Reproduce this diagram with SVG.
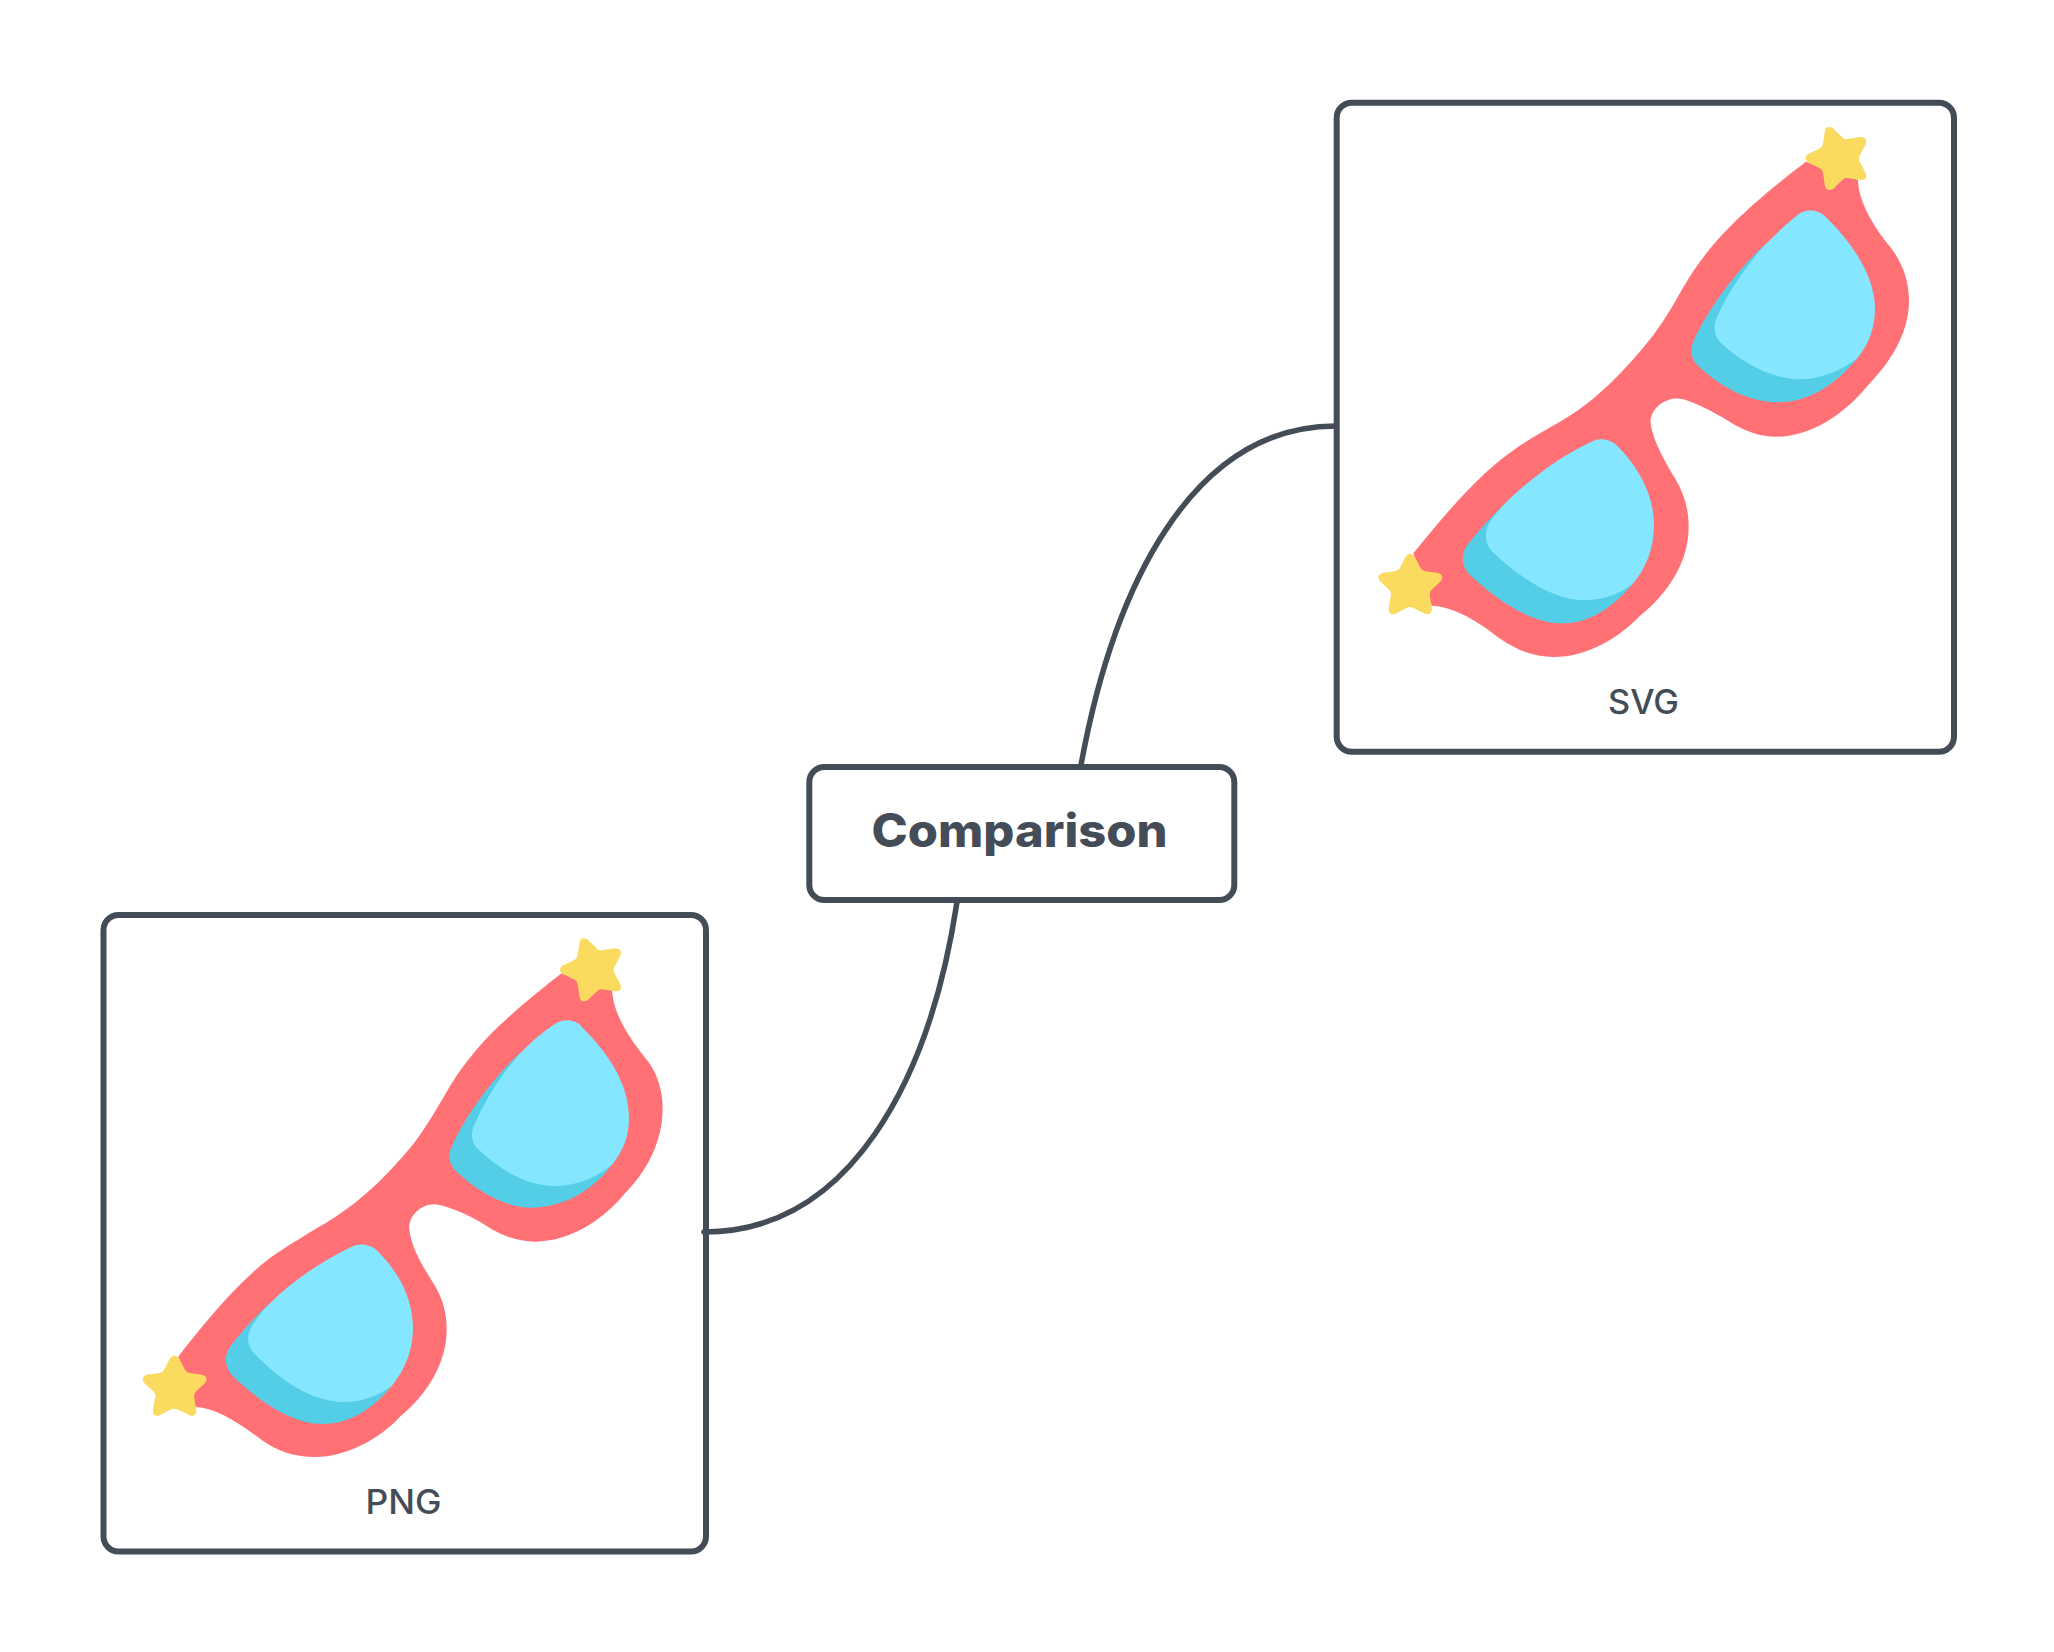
<svg xmlns="http://www.w3.org/2000/svg" width="2054" height="1652" viewBox="0 0 2054 1652">
<style>
.box{fill:#fff;stroke:#444d57;stroke-width:6}
.conn{fill:none;stroke:#444d57;stroke-width:5.5;stroke-linecap:round}
.frame{fill:#ff7175}.light{fill:#84e6ff}.dark{fill:#54cee6}.star{fill:#fadb5f}
.lbl{font-family:"Inter","Liberation Sans",sans-serif;fill:#444d57;text-anchor:middle}
.cap{font-size:34px;font-weight:500}
.title{font-size:46px;font-weight:800}
</style>
<defs>
<path id="s1" class="star" d="M1349,35 Q1353,20 1371,27 L1403,58 Q1408,63 1416,61 L1455,55 Q1477,55 1472,75 L1452,113 Q1449,120 1452,127 L1472,165 Q1477,185 1455,184 L1416,178 Q1408,177 1403,182 L1373,211 Q1354,220 1349,203 L1343,162 Q1341,152 1334,149 L1297,131 Q1283,119 1297,107 L1334,89 Q1341,86 1343,76 Z"/>
<path id="s2" class="star" d="M120,1285 Q133,1268 147,1285 L165,1320 Q170,1328 179,1329 L217,1334 Q237,1340 226,1358 L197,1385 Q191,1391 192,1400 L199,1440 Q198,1463 178,1456 L142,1438 Q133,1434 124,1438 L89,1456 Q68,1463 69,1440 L76,1400 Q77,1391 71,1385 L42,1358 Q31,1340 50,1334 L88,1329 Q97,1328 102,1320 Z"/>
</defs>
<rect width="2054" height="1652" fill="#fff"/>
<g id="node-png">
<rect class="box" x="103.5" y="915" width="602.5" height="636.5" rx="15"/>
<g transform="translate(130,930) scale(.33333)">
<path class="frame" d="M1295,130 L1446,180 C1450,260 1510,340 1555,395 C1582,432 1598,482 1598,535 C1598,640 1545,730 1485,790 C1420,870 1320,935 1215,935 C1165,935 1115,918 1070,888 C1030,862 975,835 925,824 C880,815 833,855 838,900 C848,965 880,1010 915,1068 C940,1110 950,1150 950,1200 C950,1300 890,1395 810,1460 C750,1525 650,1581 555,1581 C490,1581 440,1562 395,1530 C330,1480 255,1432 195,1431 L145,1280 C215,1190 290,1100 350,1045 C420,975 480,945 560,895 C640,850 720,790 800,700 C870,625 900,570 950,485 C985,425 1040,350 1110,285 C1170,230 1235,175 1295,130 Z"/>
<path class="dark" d="M1175,365 C1110,420 1010,545 965,650 C950,680 960,708 985,730 C1050,790 1130,833 1205,833 C1300,833 1390,780 1445,705 Z"/>
<path class="light" d="M1270,285 C1295,265 1335,265 1358,293 C1440,375 1497,465 1497,565 C1497,625 1475,670 1445,705 C1390,750 1330,768 1275,768 C1190,768 1110,720 1045,658 C1025,640 1020,610 1033,585 C1065,510 1115,430 1175,365 C1205,335 1240,305 1270,285 Z"/>
<path class="dark" d="M420,1120 C375,1160 335,1205 300,1250 C280,1280 285,1315 310,1340 C385,1410 480,1482 578,1482 C660,1482 730,1435 785,1368 Z"/>
<path class="light" d="M665,950 C690,938 722,943 742,962 C810,1030 849,1110 849,1195 C849,1260 825,1320 785,1368 C740,1400 695,1416 640,1416 C540,1416 445,1345 372,1270 C350,1245 348,1215 368,1185 C385,1160 400,1140 420,1120 C490,1050 580,990 665,950 Z"/>
<use href="#s1"/><use href="#s2"/>
</g>
<text class="lbl cap" x="403.5" y="1514" textLength="76" lengthAdjust="spacingAndGlyphs">PNG</text>
</g>
<g id="node-svg">
<rect class="box" x="1336.7" y="102.7" width="617.3" height="649" rx="15"/>
<g transform="translate(1370,120) scale(.33333)">
<path class="frame" d="M1308,125 L1464,180 C1466,250 1515,325 1561,381 C1595,425 1617,480 1617,543 C1617,640 1560,730 1490,800 C1420,885 1320,950 1220,950 C1170,950 1130,935 1090,912 C1045,885 995,855 940,838 C890,826 838,865 842,912 C850,965 885,1025 915,1075 C942,1120 956,1165 956,1220 C956,1325 895,1420 810,1487 C745,1555 650,1611 551,1611 C490,1611 440,1590 393,1558 C325,1505 255,1460 185,1457 L130,1300 C195,1220 265,1135 345,1060 C420,990 490,950 570,905 C640,865 700,815 765,745 C840,665 880,610 935,510 C975,440 1020,380 1085,315 C1150,250 1235,180 1308,125 Z"/>
<path class="dark" d="M1190,370 C1125,425 1020,550 970,665 C958,695 965,720 985,738 C1050,800 1135,847 1225,847 C1320,847 1400,790 1462,715 Z"/>
<path class="light" d="M1280,287 C1305,265 1345,267 1368,292 C1445,368 1515,465 1515,568 C1515,625 1495,675 1462,715 C1410,755 1350,778 1292,778 C1205,778 1115,727 1052,668 C1034,650 1028,620 1040,593 C1075,515 1125,440 1190,370 C1220,340 1250,310 1280,287 Z"/>
<path class="dark" d="M415,1140 C375,1180 330,1225 292,1275 C270,1305 275,1340 300,1365 C380,1440 480,1510 578,1510 C660,1510 730,1460 788,1392 Z"/>
<path class="light" d="M665,965 C690,952 722,958 742,978 C810,1045 852,1130 852,1215 C852,1285 828,1345 788,1392 C745,1425 695,1441 640,1441 C550,1441 445,1370 367,1295 C345,1272 340,1235 360,1205 C375,1185 390,1165 415,1140 C490,1070 575,1005 665,965 Z"/>
<use href="#s1" transform="translate(16,-4)"/><use href="#s2" transform="translate(-13,25)"/>
</g>
<text class="lbl cap" x="1643.5" y="713.5" textLength="71" lengthAdjust="spacingAndGlyphs">SVG</text>
</g>
<g id="node-comparison">
<rect class="box" x="809.3" y="767" width="425" height="133" rx="15"/>
<text class="lbl title" x="1019.5" y="847" textLength="296" lengthAdjust="spacingAndGlyphs">Comparison</text>
</g>
<g id="connectors">
<path class="conn" d="M704,1232 C850,1232 930,1080 957,902"/>
<path class="conn" d="M1081,765 C1113,590 1190,426 1336,426"/>
</g>
</svg>
